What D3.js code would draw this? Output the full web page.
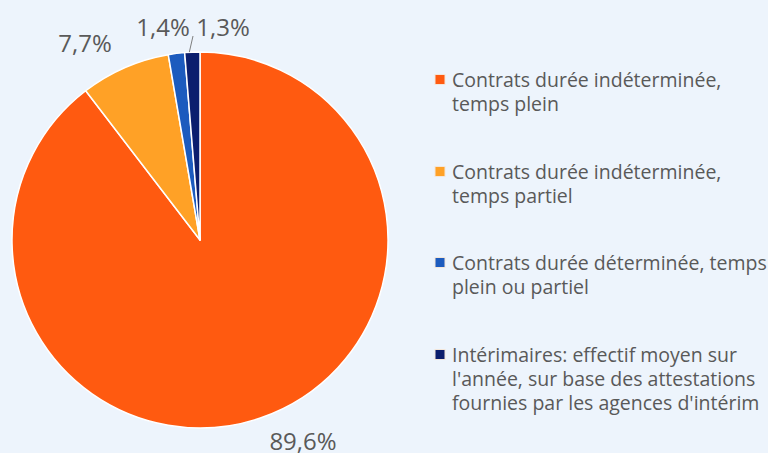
<!DOCTYPE html>
<html>
<head>
<meta charset="utf-8">
<script src="https://cdn.jsdelivr.net/npm/d3@7"></script>
<style>
  html, body { margin: 0; padding: 0; background: #EDF4FC; }
  svg { display: block; }
  text { font-family: "Open Sans", "Noto Sans", sans-serif; fill: #595959; }
</style>
</head>
<body>
<svg id="chart" width="768" height="453"></svg>
<script>
// Répartition du personnel par type de contrat (%)
const categories = [
  ["Contrats durée indéterminée,", "temps plein"],
  ["Contrats durée indéterminée,", "temps partiel"],
  ["Contrats durée déterminée, temps", "plein ou partiel"],
  ["Intérimaires: effectif moyen sur", "l'année, sur base des attestations", "fournies par les agences d'intérim"]
];
const values = [89.6, 7.7, 1.4, 1.3];
const valueLabels = ["89,6%", "7,7%", "1,4%", "1,3%"];
const colors = ["#FF5A10", "#FFA126", "#1C5BBE", "#0B1E6E"];

const svg = d3.select("#chart");
const cx = 200, cy = 240, radius = 188;

const pie = d3.pie().sort(null).value(d => d);
const arcs = pie(values);
const arc = d3.arc().innerRadius(0).outerRadius(radius);

const g = svg.append("g").attr("transform", `translate(${cx},${cy})`);

g.selectAll("path.slice")
  .data(arcs)
  .join("path")
  .attr("class", "slice")
  .attr("d", arc)
  .attr("fill", (d, i) => colors[i])
  .attr("stroke", "#FFFFFF")
  .attr("stroke-width", 1.5)
  .attr("stroke-linejoin", "round");

// Étiquettes de valeur placées hors du disque
const labelPos = [
  { x: 103, y: 210 },
  { x: -115, y: -188 },
  { x: -37, y: -204 },
  { x: 23, y: -204 }
];
arcs.forEach((d, i) => {
  const p = labelPos[i];
  g.append("text")
    .attr("x", p.x)
    .attr("y", p.y)
    .attr("text-anchor", "middle")
    .attr("font-size", 24)
    .text(valueLabels[i]);
});

// Trait de rappel pour la petite part des intérimaires
const mid = (arcs[3].startAngle + arcs[3].endAngle) / 2;
const edge = [Math.sin(mid) * radius, -Math.cos(mid) * radius];
g.append("line")
  .attr("x1", edge[0] - 3).attr("y1", edge[1])
  .attr("x2", -7).attr("y2", -204)
  .attr("stroke", "#7F7F7F")
  .attr("stroke-width", 1);

// Légende
const legendX = 434;
const legendTop = [80, 172, 263, 355];
const lineH = 24;
const legend = svg.append("g");
categories.forEach((lines, i) => {
  const y0 = legendTop[i];
  legend.append("rect")
    .attr("x", legendX + 1)
    .attr("y", y0 - 5.5)
    .attr("width", 10)
    .attr("height", 10)
    .attr("fill", colors[i])
    .attr("stroke", "#F3E6DA")
    .attr("stroke-width", 1);
  const t = legend.append("text")
    .attr("x", legendX + 18)
    .attr("y", y0)
    .attr("font-size", 19.5);
  lines.forEach((s, j) => {
    t.append("tspan")
      .attr("x", legendX + 18)
      .attr("y", y0 + j * lineH)
      .attr("dy", "0.36em")
      .text(s);
  });
});
</script>
</body>
</html>
